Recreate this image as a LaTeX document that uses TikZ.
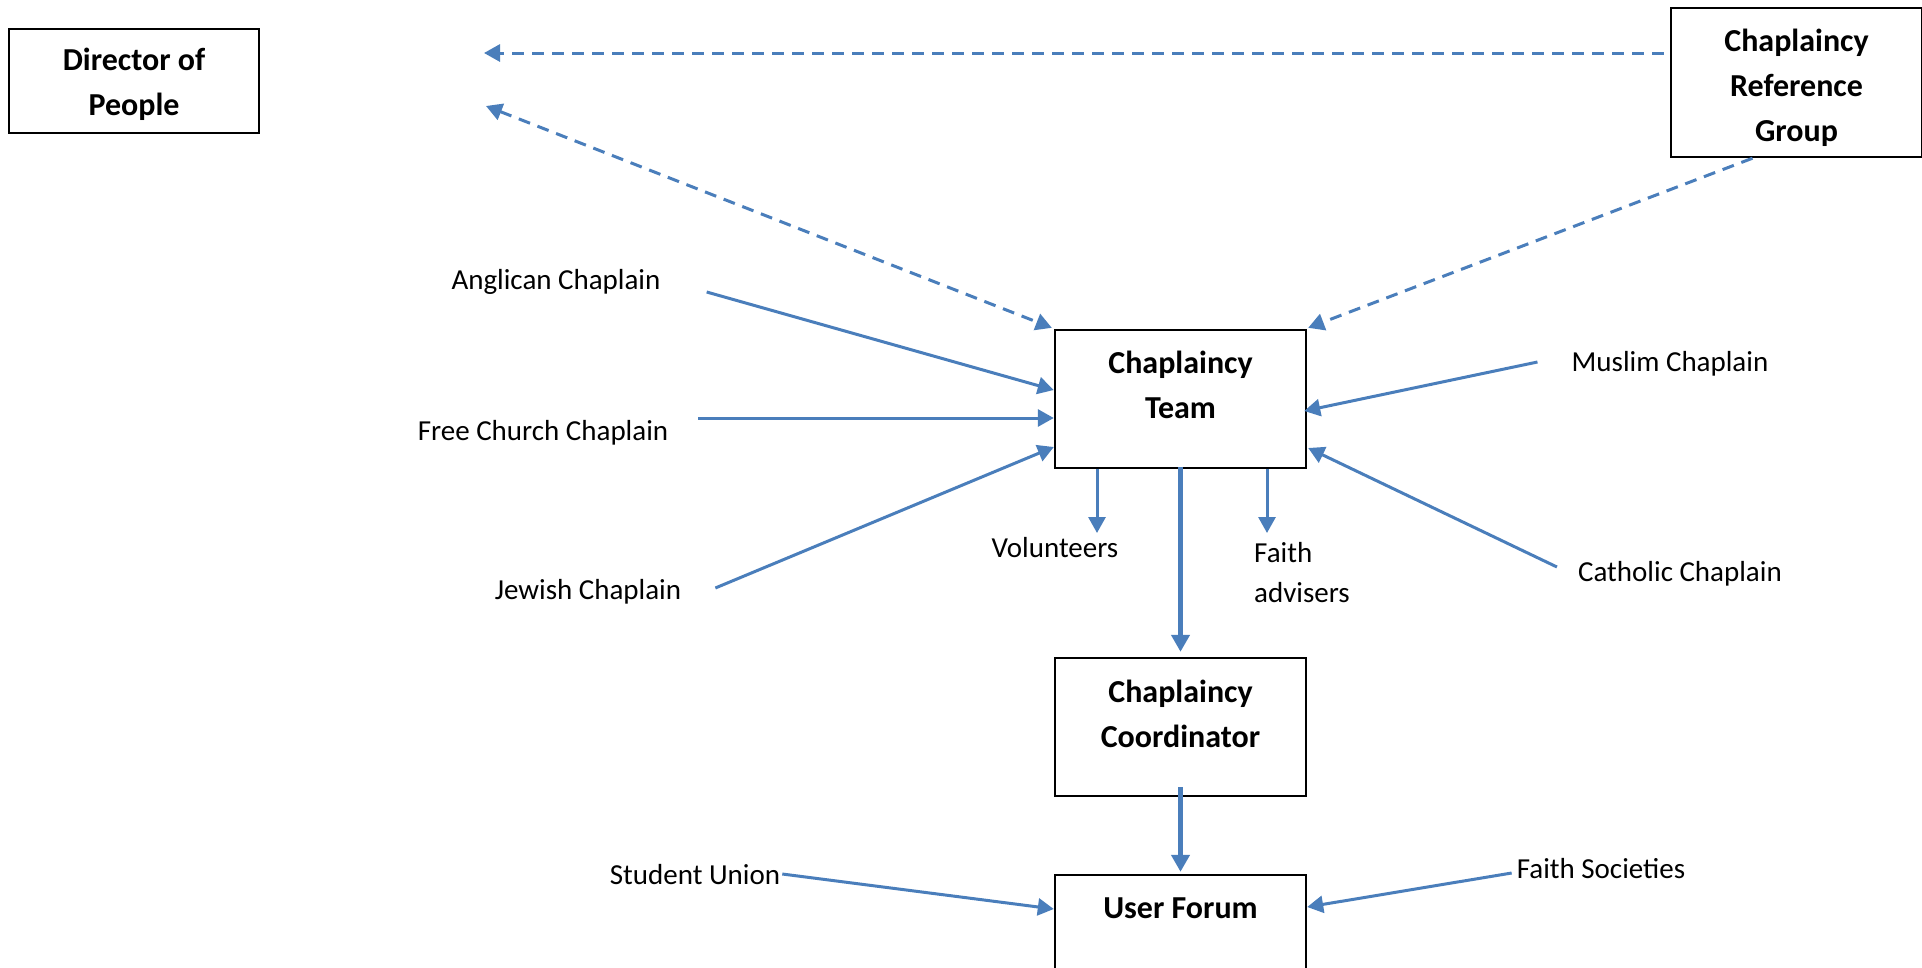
\documentclass[tikz,border=0pt]{standalone}
\usepackage{fontspec}
\setmainfont{Carlito}
\usetikzlibrary{arrows.meta,positioning}
\definecolor{linkblue}{RGB}{74,126,187}
\tikzset{
  >={Triangle[length=16pt,width=17pt]},
  box/.style={draw=black,line width=2.4pt,minimum width=251pt,minimum height=138pt,inner sep=0pt},
  title/.style={font=\fontsize{32}{45}\selectfont\bfseries,align=center,inner sep=0pt},
  note/.style={font=\fontsize{29}{40}\selectfont,inner sep=0pt},
  arr/.style={draw=linkblue,line width=3pt,->},
  bigarr/.style={draw=linkblue,line width=5pt,-{Triangle[length=17pt,width=18pt]}},
  dasharr/.style={arr,dash pattern=on 12pt off 8pt},
}
\begin{document}
\begin{tikzpicture}[x=1pt,y=-1pt]
\useasboundingbox (0,0) rectangle (1922,967);
\clip (0,0) rectangle (1922,967);

% boxes
\node[box,minimum width=250pt,minimum height=104pt] (director) at (134,81) {};
\node[title] (directortxt) at ([yshift=-3.5pt]director.center) {Director of\\People};
\node[box,minimum height=149pt] (crg) at (1796.5,82.5) {};
\node[title] (crgtxt) at ([yshift=-5pt]crg.center) {Chaplaincy\\Reference\\Group};
\node[box] (team) at (1180.5,399) {};
\node[title] (teamtxt) at ([yshift=14.5pt]team.center) {Chaplaincy\\Team};
\node[box] (coord) at (1180.5,727) {};
\node[title] (coordtxt) at ([yshift=13.5pt]coord.center) {Chaplaincy\\Coordinator};
\node[box] (forum) at (1180.5,944) {};
\node[title] (forumtxt) at ([yshift=36pt]forum.center) {User Forum};

% labels
\node[note] (anglican) at (556,282) {Anglican Chaplain};
\node[note] (freechurch) at (543,433) {Free Church Chaplain};
\node[note] (jewish) at (588,592) {Jewish Chaplain};
\node[note] (muslim) at (1670,364) {Muslim Chaplain};
\node[note] (catholic) at (1680,574) {Catholic Chaplain};
\node[note] (volunteers) at (1055,548) {Volunteers};
\node[note,align=left,anchor=west] (advisers) at (1254,573) {Faith\\advisers};
\node[note] (union) at (695,875) {Student Union};
\node[note] (societies) at (1601,869) {Faith Societies};

\coordinate (dirtop) at (484,53);
\coordinate (dirlow) at (486,106);
\coordinate (volin) at (1097,533);
\coordinate (advin) at (1267,533);

% dashed links
\draw[dasharr] ([shift={(-6,-29.5)}]crg.west) -- (dirtop);
\draw[dasharr,<->] (dirlow) -- ([shift={(-2,-1)}]team.north west);
\draw[dasharr] ([xshift=-44pt]crg.south) -- ([shift={(1,-1)}]team.north east);

% chaplains into the team
\draw[arr] ([shift={(46,10)}]anglican.east) -- ([yshift=9pt]team.west);
\draw[arr] ([shift={(30,-15)}]freechurch.east) -- ([yshift=-19pt]team.west);
\draw[arr] ([shift={(34,-4)}]jewish.east) -- ([yshift=-48pt]team.west);
\draw[arr] ([shift={(-34,-2)}]muslim.west) -- ([shift={(-3,12)}]team.east);
\draw[arr] ([shift={(-21,-7)}]catholic.west) -- ([shift={(1,49)}]team.east);

% team outputs
\draw[arr] (team.south -| volin) -- (volin);
\draw[arr] (team.south -| advin) -- (advin);
\draw[bigarr] ([yshift=2pt]team.south) -- ([yshift=5pt]coord.north);
\draw[bigarr] ([yshift=10pt]coord.south) -- ([yshift=2pt]forum.north);

% forum inputs
\draw[arr] ([shift={(2,-1)}]union.east) -- ([yshift=35pt]forum.west);
\draw[arr] ([shift={(-5,4)}]societies.west) -- ([yshift=37pt]forum.east);

\end{tikzpicture}
\end{document}
